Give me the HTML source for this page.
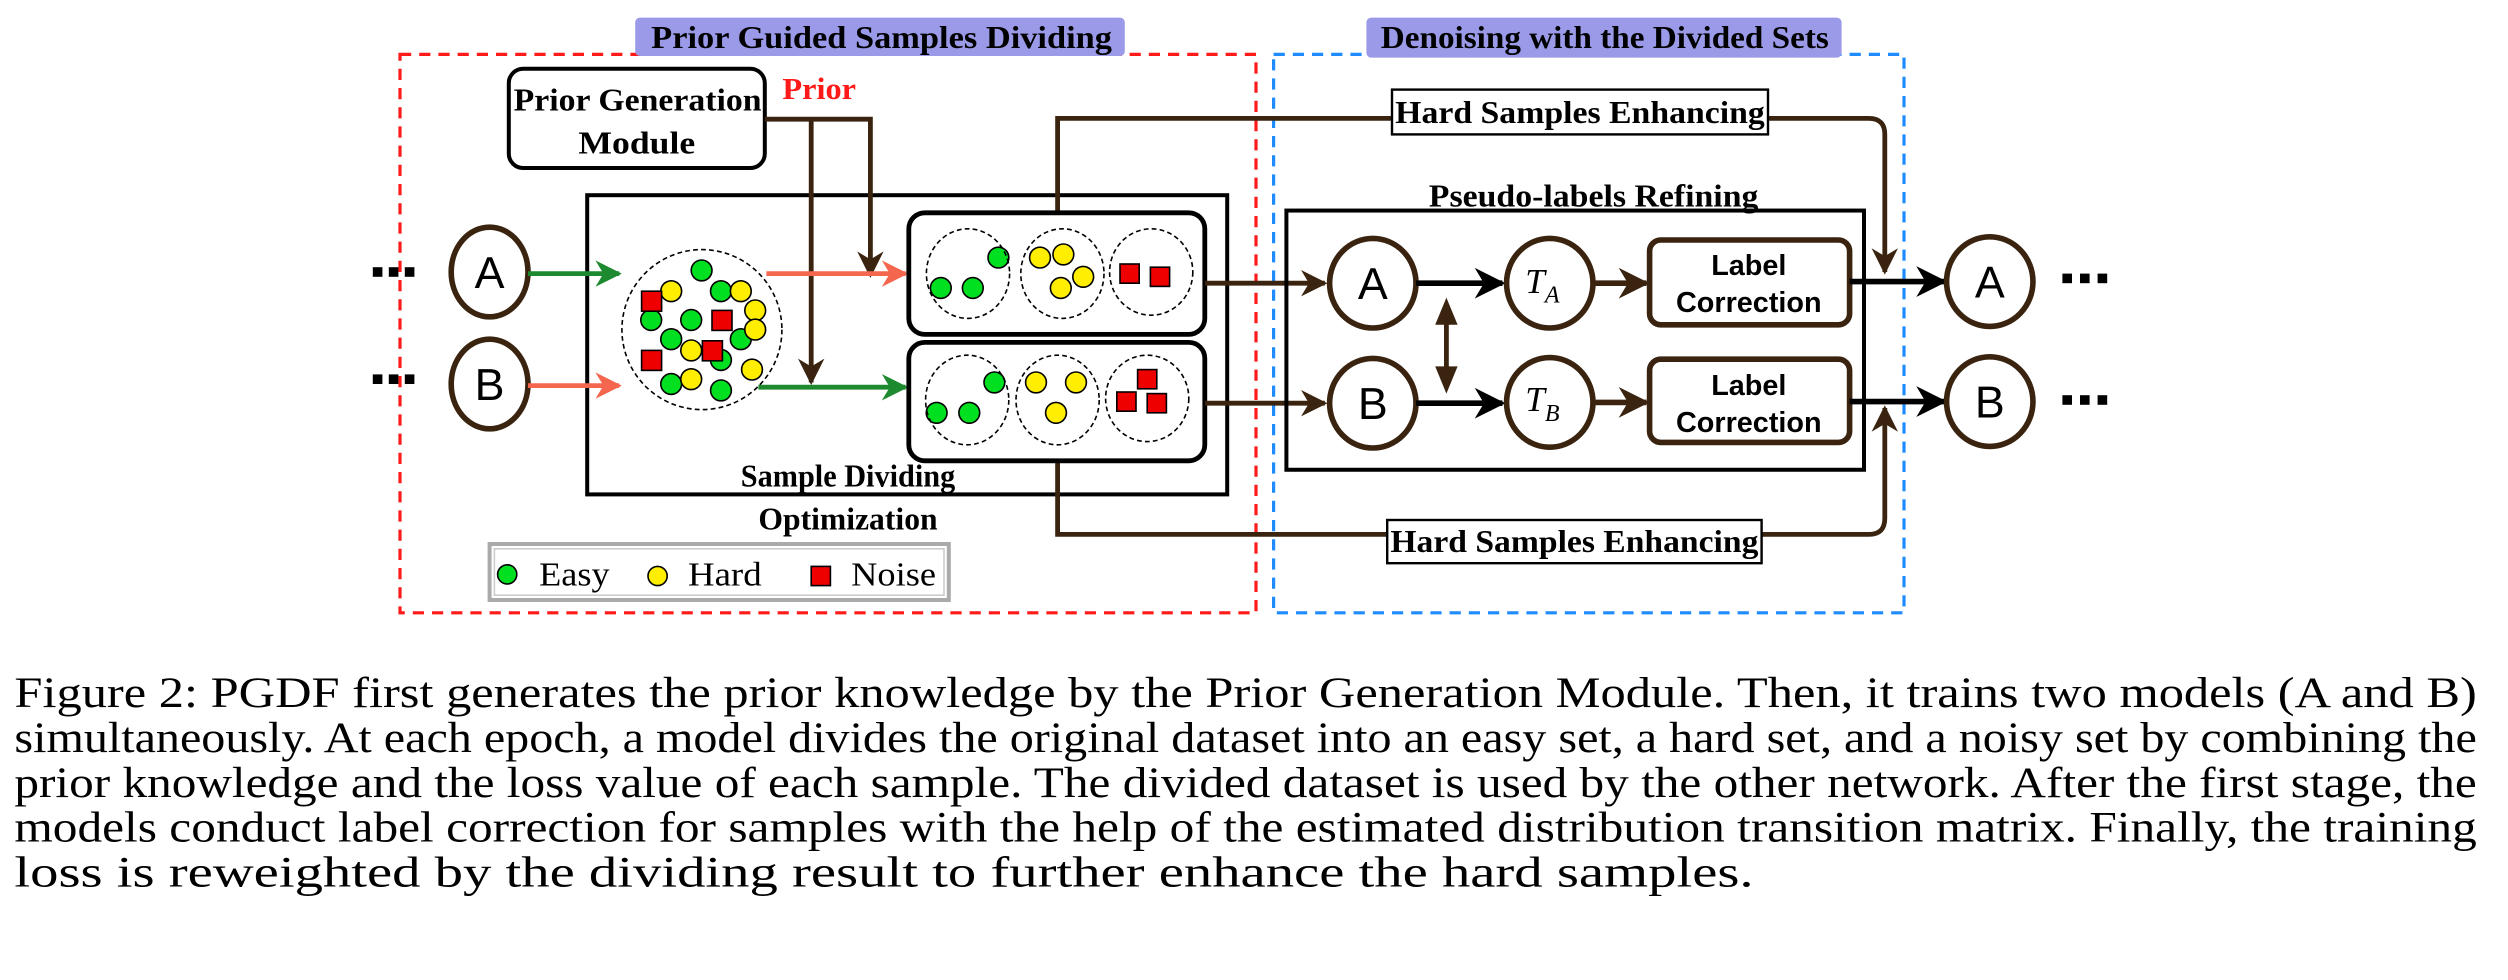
<!DOCTYPE html>
<html><head><meta charset="utf-8"><style>
html,body{margin:0;padding:0;background:#fff;}
svg{display:block;}
.t{font-family:"Liberation Serif",serif;font-weight:bold;}
.s{font-family:"Liberation Sans",sans-serif;}
</style></head><body>
<svg width="2508" height="980" viewBox="0 0 1567.5 612.5" xmlns="http://www.w3.org/2000/svg">
<defs>
<marker id="ab" viewBox="0 0 10 10" refX="9" refY="5" markerWidth="5.5" markerHeight="5.5" orient="auto" markerUnits="strokeWidth"><path d="M0,0 L10,5 L0,10 L3,5 z" fill="#3a2410"/></marker>
<marker id="ak" viewBox="0 0 10 10" refX="9" refY="5" markerWidth="5.5" markerHeight="5.5" orient="auto" markerUnits="strokeWidth"><path d="M0,0 L10,5 L0,10 L3,5 z" fill="#000"/></marker>
<marker id="ar" viewBox="0 0 10 10" refX="9" refY="5" markerWidth="5.5" markerHeight="5.5" orient="auto" markerUnits="strokeWidth"><path d="M0,0 L10,5 L0,10 L3,5 z" fill="#f4664e"/></marker>
<marker id="ag" viewBox="0 0 10 10" refX="9" refY="5" markerWidth="5.5" markerHeight="5.5" orient="auto" markerUnits="strokeWidth"><path d="M0,0 L10,5 L0,10 L3,5 z" fill="#1e8a30"/></marker>
</defs>
<!-- dashed frames -->
<rect x="250" y="34" width="535" height="349" fill="none" stroke="#ff1a1a" stroke-width="2" stroke-dasharray="7,5"/>
<rect x="796" y="34" width="394" height="349" fill="none" stroke="#1e8cff" stroke-width="2" stroke-dasharray="7,5"/>
<rect x="397" y="11" width="306" height="24" rx="3" fill="#9a9ae8"/>
<text x="407" y="30" class="t" font-size="20" textLength="288" lengthAdjust="spacingAndGlyphs">Prior Guided Samples Dividing</text>
<rect x="854" y="11" width="297" height="25" rx="3" fill="#9a9ae8"/>
<text x="863" y="30" class="t" font-size="20" textLength="280" lengthAdjust="spacingAndGlyphs">Denoising with the Divided Sets</text>

<!-- prior generation -->
<rect x="318" y="43" width="160" height="62" rx="9" fill="#fff" stroke="#000" stroke-width="2.5"/>
<text x="321" y="69" class="t" font-size="20" textLength="155" lengthAdjust="spacingAndGlyphs">Prior Generation</text>
<text x="398" y="96" class="t" font-size="20" text-anchor="middle" textLength="73" lengthAdjust="spacingAndGlyphs">Module</text>
<text x="489" y="62" class="t" font-size="19" fill="#ff1a1a" textLength="46" lengthAdjust="spacingAndGlyphs">Prior</text>

<!-- SDO box -->
<rect x="367" y="122" width="400" height="187" fill="none" stroke="#000" stroke-width="2.5"/>

<!-- hard samples lines -->
<path d="M661,133 V74 H1168 Q1178,74 1178,84 V170" fill="none" stroke="#3a2410" stroke-width="3" marker-end="url(#ab)"/>
<path d="M661,288 V334 H1168 Q1178,334 1178,324 V255" fill="none" stroke="#3a2410" stroke-width="3" marker-end="url(#ab)"/>
<rect x="870" y="56" width="235" height="28" fill="#fff" stroke="#000" stroke-width="1.5"/>
<text x="872" y="77" class="t" font-size="20" textLength="231" lengthAdjust="spacingAndGlyphs">Hard Samples Enhancing</text>
<rect x="867" y="325" width="234" height="27" fill="#fff" stroke="#000" stroke-width="1.5"/>
<text x="869" y="345" class="t" font-size="20" textLength="230" lengthAdjust="spacingAndGlyphs">Hard Samples Enhancing</text>

<!-- prior lines -->
<path d="M478,74.5 H544 V172" fill="none" stroke="#3a2410" stroke-width="3" marker-end="url(#ab)"/>
<path d="M507,74.5 V239" fill="none" stroke="#3a2410" stroke-width="3" marker-end="url(#ab)"/>

<!-- input circles -->
<g fill="#000"><rect x="233" y="167" width="6" height="6"/><rect x="243" y="167" width="6" height="6"/><rect x="253" y="167" width="6" height="6"/>
<rect x="233" y="234" width="6" height="6"/><rect x="243" y="234" width="6" height="6"/><rect x="253" y="234" width="6" height="6"/></g>
<ellipse cx="306" cy="170" rx="24" ry="28" fill="#fff" stroke="#3a2410" stroke-width="3.5"/>
<text x="306" y="180" class="s" font-size="28" text-anchor="middle">A</text>
<ellipse cx="306" cy="240" rx="24" ry="28" fill="#fff" stroke="#3a2410" stroke-width="3.5"/>
<text x="306" y="250" class="s" font-size="28" text-anchor="middle">B</text>
<line x1="330" y1="171" x2="387" y2="171" stroke="#1e8a30" stroke-width="3" marker-end="url(#ag)"/>
<line x1="330" y1="241" x2="387" y2="241" stroke="#f4664e" stroke-width="3" marker-end="url(#ar)"/>
<line x1="479" y1="171" x2="566" y2="171" stroke="#f4664e" stroke-width="3" marker-end="url(#ar)"/>
<line x1="474" y1="242" x2="566" y2="242" stroke="#1e8a30" stroke-width="3" marker-end="url(#ag)"/>

<!-- big dashed circle -->
<ellipse cx="438.7" cy="206" rx="50" ry="50" fill="none" stroke="#000" stroke-width="1" stroke-dasharray="3,2"/>
<g stroke="#000" stroke-width="1">
<g fill="#00e020">
<circle cx="438.5" cy="169" r="6.5"/><circle cx="450.6" cy="182" r="6.5"/><circle cx="407" cy="200" r="6.5"/><circle cx="432" cy="200" r="6.5"/><circle cx="419.5" cy="212" r="6.5"/><circle cx="463" cy="212" r="6.5"/><circle cx="450.6" cy="225" r="6.5"/><circle cx="419.5" cy="240" r="6.5"/><circle cx="450.6" cy="244" r="6.5"/>
<circle cx="624" cy="161" r="6.5"/><circle cx="588" cy="180" r="6.5"/><circle cx="608" cy="180" r="6.5"/>
<circle cx="621.5" cy="239" r="6.5"/><circle cx="585.4" cy="258" r="6.5"/><circle cx="605.8" cy="258" r="6.5"/>
</g>
<g fill="#ffee00">
<circle cx="419.5" cy="182" r="6.5"/><circle cx="463" cy="182" r="6.5"/><circle cx="472" cy="194" r="6.5"/><circle cx="472" cy="206" r="6.5"/><circle cx="432" cy="219" r="6.5"/><circle cx="470" cy="231" r="6.5"/><circle cx="432" cy="237" r="6.5"/>
<circle cx="650" cy="161" r="6.5"/><circle cx="664.6" cy="159" r="6.5"/><circle cx="677" cy="173" r="6.5"/><circle cx="663" cy="180" r="6.5"/>
<circle cx="647.5" cy="239" r="6.5"/><circle cx="672.5" cy="239" r="6.5"/><circle cx="660" cy="258" r="6.5"/>
</g>
<g fill="#ee0000">
<rect x="401" y="182" width="12.5" height="12.5"/><rect x="445" y="194" width="12.5" height="12.5"/><rect x="439" y="213" width="12.5" height="12.5"/><rect x="401" y="219" width="12.5" height="12.5"/>
<rect x="700" y="165" width="12" height="12"/><rect x="719" y="167" width="12" height="12"/>
<rect x="711" y="231" width="12" height="12"/><rect x="698" y="245" width="12" height="12"/><rect x="717" y="246" width="12" height="12"/>
</g>
</g>

<!-- divided boxes -->
<rect x="568" y="133" width="185" height="76" rx="10" fill="none" stroke="#000" stroke-width="3"/>
<rect x="568" y="214" width="185" height="74" rx="10" fill="none" stroke="#000" stroke-width="3"/>
<g fill="none" stroke="#000" stroke-width="1" stroke-dasharray="3,2">
<ellipse cx="605" cy="171" rx="26" ry="28"/><ellipse cx="664" cy="171" rx="26" ry="28"/><ellipse cx="719.5" cy="170" rx="26" ry="27"/>
<ellipse cx="604.5" cy="250" rx="26" ry="28"/><ellipse cx="661" cy="250" rx="26" ry="28"/><ellipse cx="717" cy="249" rx="26" ry="27"/>
</g>
<text x="530" y="304" class="t" font-size="20" text-anchor="middle" textLength="134" lengthAdjust="spacingAndGlyphs">Sample Dividing</text>
<text x="530" y="331" class="t" font-size="20" text-anchor="middle" textLength="112" lengthAdjust="spacingAndGlyphs">Optimization</text>
<line x1="753" y1="177" x2="828" y2="177" stroke="#3a2410" stroke-width="3" marker-end="url(#ab)"/>
<line x1="753" y1="252" x2="828" y2="252" stroke="#3a2410" stroke-width="3" marker-end="url(#ab)"/>

<!-- pseudo labels -->
<rect x="804" y="131.6" width="361" height="162" fill="none" stroke="#000" stroke-width="2.5"/>
<text x="996" y="129" class="t" font-size="20" text-anchor="middle" textLength="206" lengthAdjust="spacingAndGlyphs">Pseudo-labels Refining</text>
<ellipse cx="858" cy="177" rx="27" ry="28" fill="#fff" stroke="#3a2410" stroke-width="3.5"/>
<text x="858" y="187" class="s" font-size="28" text-anchor="middle">A</text>
<ellipse cx="858" cy="252" rx="27" ry="28" fill="#fff" stroke="#3a2410" stroke-width="3.5"/>
<text x="858" y="262" class="s" font-size="28" text-anchor="middle">B</text>
<line x1="885" y1="177" x2="939" y2="177" stroke="#000" stroke-width="3.5" marker-end="url(#ak)"/>
<line x1="885" y1="252" x2="939" y2="252" stroke="#000" stroke-width="3.5" marker-end="url(#ak)"/>
<line x1="904" y1="200" x2="904" y2="232" stroke="#3a2410" stroke-width="3"/>
<path d="M904,186 L897,203 L911,203 z M904,246 L897,229 L911,229 z" fill="#3a2410"/>
<ellipse cx="968.6" cy="177" rx="27" ry="28" fill="#fff" stroke="#3a2410" stroke-width="3.5"/>
<text x="964" y="183" font-family="Liberation Serif,serif" font-style="italic" font-size="22" text-anchor="middle">T<tspan font-size="15" dy="6">A</tspan></text>
<ellipse cx="968.6" cy="251.5" rx="27" ry="28" fill="#fff" stroke="#3a2410" stroke-width="3.5"/>
<text x="964" y="257" font-family="Liberation Serif,serif" font-style="italic" font-size="22" text-anchor="middle">T<tspan font-size="15" dy="6">B</tspan></text>
<line x1="996" y1="177" x2="1029" y2="177" stroke="#3a2410" stroke-width="3.5" marker-end="url(#ab)"/>
<line x1="996" y1="251.5" x2="1029" y2="251.5" stroke="#3a2410" stroke-width="3.5" marker-end="url(#ab)"/>
<rect x="1031" y="150" width="125" height="53" rx="7" fill="#fff" stroke="#3a2410" stroke-width="3.5"/>
<text x="1093" y="172" class="s" font-size="18" font-weight="bold" text-anchor="middle">Label</text>
<text x="1093" y="195" class="s" font-size="18" font-weight="bold" text-anchor="middle">Correction</text>
<rect x="1031" y="224.5" width="125" height="52" rx="7" fill="#fff" stroke="#3a2410" stroke-width="3.5"/>
<text x="1093" y="247" class="s" font-size="18" font-weight="bold" text-anchor="middle">Label</text>
<text x="1093" y="270" class="s" font-size="18" font-weight="bold" text-anchor="middle">Correction</text>
<line x1="1156" y1="176" x2="1215" y2="176" stroke="#000" stroke-width="3.5" marker-end="url(#ak)"/>
<line x1="1156" y1="251" x2="1215" y2="251" stroke="#000" stroke-width="3.5" marker-end="url(#ak)"/>
<ellipse cx="1243.6" cy="176" rx="27" ry="28" fill="#fff" stroke="#3a2410" stroke-width="3.5"/>
<text x="1243.6" y="186" class="s" font-size="28" text-anchor="middle">A</text>
<ellipse cx="1243.6" cy="251" rx="27" ry="28" fill="#fff" stroke="#3a2410" stroke-width="3.5"/>
<text x="1243.6" y="261" class="s" font-size="28" text-anchor="middle">B</text>
<g fill="#000"><rect x="1289" y="171" width="6" height="6"/><rect x="1300" y="171" width="6" height="6"/><rect x="1311" y="171" width="6" height="6"/>
<rect x="1289" y="247" width="6" height="6"/><rect x="1300" y="247" width="6" height="6"/><rect x="1311" y="247" width="6" height="6"/></g>

<!-- legend -->
<rect x="306" y="340" width="287" height="35" fill="none" stroke="#aaa" stroke-width="2.5"/>
<rect x="309" y="343" width="281" height="29" fill="none" stroke="#ccc" stroke-width="1"/>
<circle cx="317" cy="359" r="6" fill="#00e020" stroke="#000" stroke-width="1"/>
<text x="337" y="366" font-family="Liberation Serif,serif" font-size="21" textLength="44" lengthAdjust="spacingAndGlyphs">Easy</text>
<circle cx="411" cy="360" r="6" fill="#ffee00" stroke="#000" stroke-width="1"/>
<text x="430" y="366" font-family="Liberation Serif,serif" font-size="21" textLength="46" lengthAdjust="spacingAndGlyphs">Hard</text>
<rect x="507" y="354" width="12" height="12" fill="#ee0000" stroke="#000" stroke-width="1"/>
<text x="532" y="366" font-family="Liberation Serif,serif" font-size="21" textLength="53" lengthAdjust="spacingAndGlyphs">Noise</text>

<!-- caption -->
<g font-family="Liberation Serif,serif" font-size="27" fill="#000">
<text x="9" y="442" textLength="1539" lengthAdjust="spacingAndGlyphs">Figure 2: PGDF first generates the prior knowledge by the Prior Generation Module. Then, it trains two models (A and B)</text>
<text x="9" y="470" textLength="1539" lengthAdjust="spacingAndGlyphs">simultaneously. At each epoch, a model divides the original dataset into an easy set, a hard set, and a noisy set by combining the</text>
<text x="9" y="498" textLength="1539" lengthAdjust="spacingAndGlyphs">prior knowledge and the loss value of each sample. The divided dataset is used by the other network. After the first stage, the</text>
<text x="9" y="526" textLength="1539" lengthAdjust="spacingAndGlyphs">models conduct label correction for samples with the help of the estimated distribution transition matrix. Finally, the training</text>
<text x="9" y="554" textLength="1087" lengthAdjust="spacingAndGlyphs">loss is reweighted by the dividing result to further enhance the hard samples.</text>
</g>
</svg>
</body></html>
